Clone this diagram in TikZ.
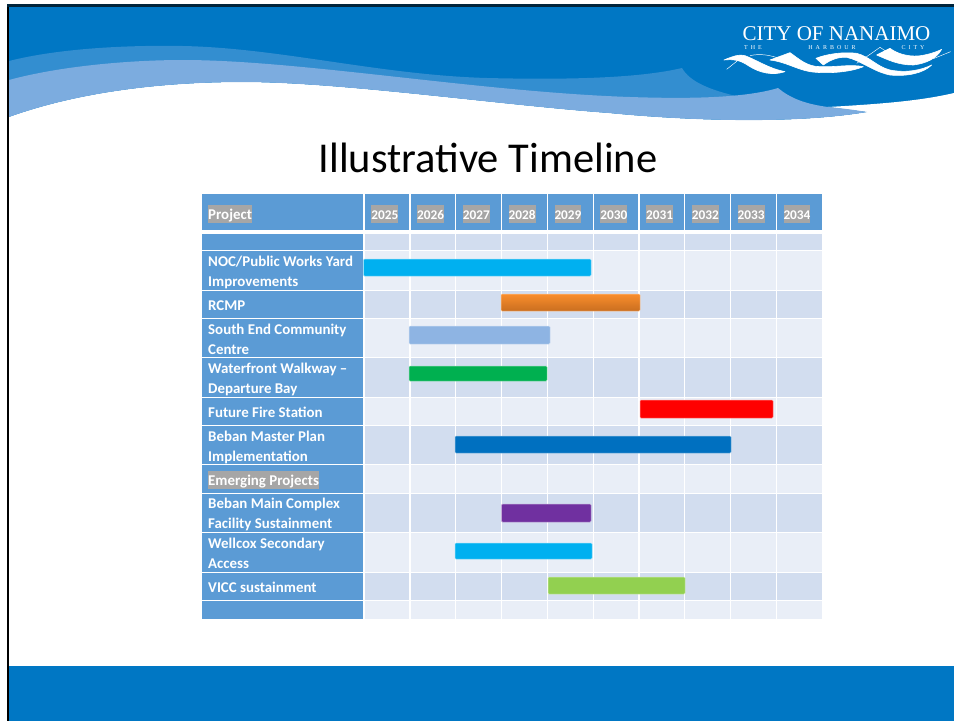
\documentclass[tikz,border=0pt]{standalone}
\usepackage{fontspec}
\setmainfont{Carlito}
\newfontfamily\logofont{Liberation Serif}
\definecolor{hdrblue}{HTML}{0077C4}
\definecolor{midwave}{HTML}{338ED0}
\definecolor{lightwave}{HTML}{7CACDF}
\definecolor{tblblue}{HTML}{5B9BD5}
\definecolor{bandA}{HTML}{D2DDEF}
\definecolor{bandB}{HTML}{E9EEF7}
\definecolor{hilite}{HTML}{A6A6A6}
\definecolor{barcyan}{HTML}{00B0F0}
\definecolor{barlight}{HTML}{8EB4E3}
\definecolor{bargreen}{HTML}{00B050}
\definecolor{barred}{HTML}{FF0000}
\definecolor{barblue}{HTML}{0070C0}
\definecolor{barpurple}{HTML}{7030A0}
\definecolor{barlime}{HTML}{92D050}
\definecolor{barorangeA}{HTML}{FA8E2C}
\definecolor{barorangeB}{HTML}{C96E20}
\tikzset{
  cellbox/.style={anchor=north west,inner sep=0pt,outer sep=0pt,fill=#1},
  rowlabel/.style={anchor=west,align=left,text=white,inner sep=0pt,font=\fontsize{14.9}{20}\selectfont\bfseries},
  hl/.style={fill=hilite,text=white,inner sep=0pt,anchor=west,font=\fontsize{14.9}{16}\selectfont\bfseries,text height=14.5pt,text depth=3.5pt},
  hlyear/.style={hl,font=\fontsize{13.3}{16}\selectfont\bfseries},
  barbox/.style={anchor=north west,inner sep=0pt,outer sep=0pt,rounded corners=1pt,fill=#1,draw=#1!45!white,line width=.5pt},
  logoline/.style={white,line width=.45pt},
  logowave/.style={fill=white,draw=white,line width=.6pt,line join=round},
}
\begin{document}
\begin{tikzpicture}[x=1pt,y=-1pt]
\useasboundingbox (0,0) rectangle (954,721);
\fill[white] (0,0) rectangle (954,721);
% top banner
\fill[hdrblue] (8,5) rectangle (954,130);
% white part below the wave
\fill[white] (9,117) .. controls (70,95) and (150,82) .. (243,82)
  .. controls (340,82) and (500,105) .. (609,113)
  .. controls (680,120) and (790,125) .. (867,112)
  -- (828,107) .. controls (880,104) and (920,101) .. (954,93)
  -- (954,131) -- (9,131) -- cycle;
% medium wave
\fill[midwave] (9,61) .. controls (60,48) and (130,45) .. (183,46)
  .. controls (280,48) and (380,75) .. (487,78)
  .. controls (570,80) and (640,78) .. (682,68)
  .. controls (690,82) and (710,90) .. (740,97)
  -- (720,103) -- (500,92) -- (300,75) -- (100,75) -- (9,90) -- cycle;
% light wave
\fill[lightwave] (9,80) .. controls (60,66) and (130,60) .. (183,60)
  .. controls (300,60) and (480,92) .. (630,97)
  .. controls (690,99) and (745,98) .. (778,88)
  .. controls (790,98) and (805,104) .. (828,107)
  .. controls (840,108) and (855,110) .. (867,112)
  .. controls (790,125) and (680,120) .. (609,113)
  .. controls (500,105) and (340,82) .. (243,82)
  .. controls (150,82) and (70,95) .. (9,117) -- cycle;
% logo
\node[anchor=center,text=white,inner sep=0pt,font=\logofont\fontsize{21}{22}\selectfont] (logoname) at (836.5,34) {CITY OF NANAIMO};
\node[text=white,inner sep=0pt,font=\logofont\fontsize{6}{6}\selectfont] (logothe) at (753,48) {T\,\,\,H\,\,\,E};
\node[text=white,inner sep=0pt,font=\logofont\fontsize{6}{6}\selectfont] (logoharbour) at (832,48) {H\,\,\,A\,\,\,R\,\,\,B\,\,\,O\,\,\,U\,\,\,R};
\node[text=white,inner sep=0pt,font=\logofont\fontsize{6}{6}\selectfont] (logocity) at (913,48) {C\,\,\,I\,\,\,T\,\,\,Y};
\begin{scope}[shift={(710,10)},x=.3333pt,y=-.3333pt]
\path[logowave] (42,150) .. controls (70,138) and (90,132) .. (105,137) .. controls (140,150) and (175,175) .. (225,185)
  .. controls (190,197) and (150,190) .. (115,167) .. controls (90,150) and (70,147) .. (42,150) -- cycle;
\path[logowave] (180,150) -- (240,128) .. controls (265,145) and (290,170) .. (330,170) .. controls (380,172) and (420,162) .. (460,170)
  .. controls (420,187) and (350,192) .. (300,185) .. controls (260,178) and (225,155) .. (180,150) -- cycle;
\path[logowave] (318,145) .. controls (350,132) and (400,125) .. (440,130) .. controls (480,140) and (500,170) .. (540,180)
  .. controls (590,190) and (635,180) .. (665,165) .. controls (640,190) and (590,200) .. (540,195)
  .. controls (490,185) and (450,150) .. (410,142) .. controls (385,140) and (360,150) .. (340,165) -- cycle;
\path[logowave] (500,135) -- (540,115) .. controls (560,130) and (590,140) .. (625,138) .. controls (650,135) and (675,128) .. (695,118)
  .. controls (680,145) and (650,160) .. (610,165) .. controls (565,165) and (535,150) .. (500,135) -- cycle;
\draw[logoline] (50,178) -- (85,150);
\draw[logoline] (120,137) .. controls (150,130) and (180,135) .. (210,146);
\draw[logoline] (440,160) -- (470,140) -- (510,112) -- (530,125);
\draw[logoline] (670,146) -- (722,125);
\end{scope}
% frame
\fill[black] (7,4) rectangle (9,721);
\fill[black!70!hdrblue] (7,4) rectangle (954,6.5);
% footer
\fill[hdrblue] (9,666) rectangle (954,721);
% title
\node[inner sep=0pt,font=\fontsize{42.5}{46}\selectfont,text=black] (title) at (488,158) {Illustrative Timeline};
% table header
\node[cellbox=tblblue,minimum width=160.7pt,minimum height=36pt] (hproject) at (202,194) {};
\node[hl] (hprojectlabel) at (208,213.5) {Project};
\foreach \i/\yr in {0/2025,1/2026,2/2027,3/2028,4/2029,5/2030,6/2031,7/2032,8/2033,9/2034}{
  \pgfmathsetmacro{\cx}{364.8+45.8*\i}
  \pgfmathsetmacro{\cc}{\cx+6.3}
  \node[cellbox=tblblue,minimum width=44.5pt,minimum height=36pt] (h\yr) at (\cx,194) {};
  \node[hlyear] (l\yr) at (\cc,213.5) {\yr};
}
% rows
\foreach \r/\t/\b/\col/\off/\lab in {
 0/234/249.6/bandA/1.5/{},
 1/250.8/289.6/bandB/2/{NOC/Public Works Yard\\Improvements},
 2/290.8/317.6/bandA/1/{RCMP},
 3/318.8/357/bandB/1.5/{South End Community\\Centre},
 4/358.2/396.5/bandA/2/{Waterfront Walkway --\\Departure Bay},
 5/397.7/425/bandB/.7/{Future Fire Station},
 6/426.2/464.2/bandA/1.8/{Beban Master Plan\\Implementation},
 7/465.4/493/bandB/1.5/{},
 8/494.2/532/bandA/1.8/{Beban Main Complex\\Facility Sustainment},
 9/533.2/571.5/bandB/1/{Wellcox Secondary\\Access},
 10/572.7/600/bandA/.7/{VICC sustainment},
 11/601.2/619/bandB/1.5/{}}{
  \pgfmathsetmacro{\h}{\b-\t}
  \pgfmathsetmacro{\m}{(\t+\b)/2+\off}
  \node[cellbox=tblblue,minimum width=160.7pt,minimum height=\h pt] (name\r) at (202,\t) {};
  \foreach \i in {0,...,9}{
    \pgfmathsetmacro{\cx}{364.8+45.8*\i}
    \node[cellbox=\col,minimum width=44.5pt,minimum height=\h pt] (c\r-\i) at (\cx,\t) {};
  }
  \node[rowlabel] (lab\r) at (208,\m) {\lab};
}
\node[hl] (emerging) at (208,480) {Emerging Projects};
% bars
\foreach \n/\xa/\xb/\ya/\yb/\col in {
 noc/363.5/591/259/276/barcyan,
 south/409/550/326/344/barlight,
 water/409/547/366/381/bargreen,
 fire/640/773/400/418/barred,
 beban/455/731/436/453/barblue,
 main/501.5/591/504/522/barpurple,
 well/455/592/543/559/barcyan,
 vicc/548/685/577/594/barlime}{
  \pgfmathsetmacro{\w}{\xb-\xa}
  \pgfmathsetmacro{\h}{\yb-\ya}
  \node[barbox=\col,minimum width=\w pt,minimum height=\h pt] (bar\n) at (\xa,\ya) {};
}
\node[anchor=north west,inner sep=0pt,outer sep=0pt,rounded corners=1pt,top color=barorangeA,bottom color=barorangeB,draw=barorangeA!50!white,line width=.5pt,minimum width=139pt,minimum height=17pt] (barrcmp) at (501,294) {};
\end{tikzpicture}
\end{document}
